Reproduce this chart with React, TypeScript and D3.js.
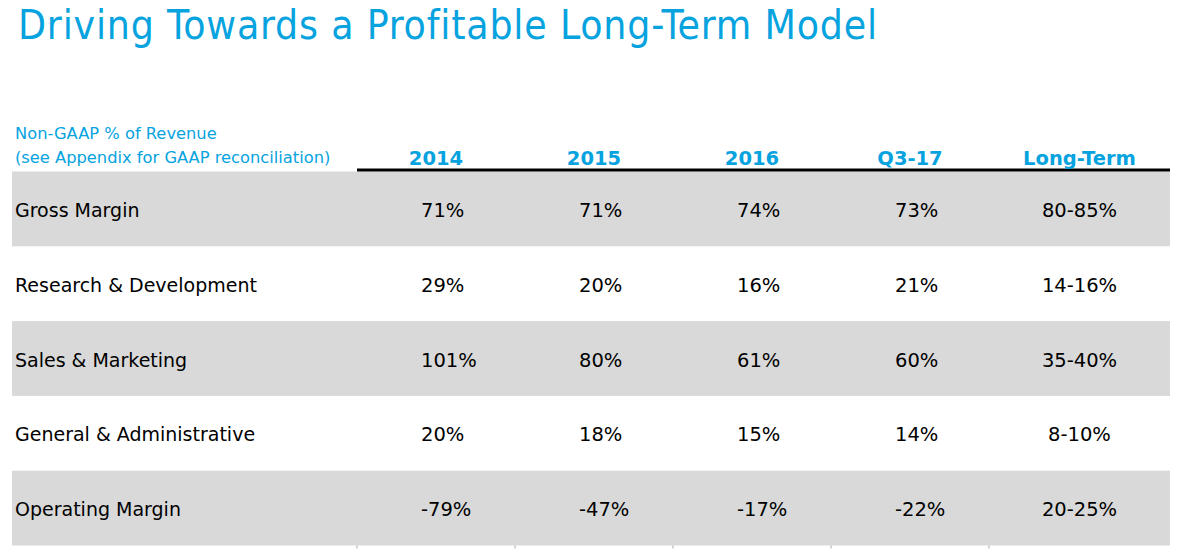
import React from "react";
import * as d3 from "d3";

const title = "Driving Towards a Profitable Long-Term Model";
const subtitleLines = ["Non-GAAP % of Revenue", "(see Appendix for GAAP reconciliation)"];
const columns = ["2014", "2015", "2016", "Q3-17", "Long-Term"];
const rowLabels = [
  "Gross Margin",
  "Research & Development",
  "Sales & Marketing",
  "General & Administrative",
  "Operating Margin",
];
const v2014 = ["71%", "29%", "101%", "20%", "-79%"];
const v2015 = ["71%", "20%", "80%", "18%", "-47%"];
const v2016 = ["74%", "16%", "61%", "15%", "-17%"];
const vQ317 = ["73%", "21%", "60%", "14%", "-22%"];
const vLongTerm = ["80-85%", "14-16%", "35-40%", "8-10%", "20-25%"];

const seriesByColumn = [v2014, v2015, v2016, vQ317, vLongTerm];

const W = 1179;
const H = 551;
const BLUE = "#06a3df";
const GRAY = "#d9d9d9";
const FONT = "'DejaVu Sans', Verdana, sans-serif";
const FONT_COND = "'DejaVu Sans Condensed', 'DejaVu Sans', sans-serif";

export default function App() {
  const tableLeft = 12;
  const tableRight = 1170;
  const colStart = 357;
  const colWidth = 158;

  const x = d3
    .scaleBand<string>()
    .domain(columns)
    .range([colStart, colStart + colWidth * columns.length])
    .paddingInner(0)
    .paddingOuter(0);

  const y = d3
    .scaleBand<string>()
    .domain(rowLabels)
    .range([171.5, 171.5 + 74.8 * rowLabels.length])
    .paddingInner(0);

  const last = columns[columns.length - 1];
  const colCenter = (c: string) =>
    c === last ? ((x(c) as number) + tableRight) / 2 : (x(c) as number) + x.bandwidth() / 2;
  const valueX = (c: string) => (c === last ? colCenter(c) : (x(c) as number) + 64);
  const valueAnchor = (c: string) => (c === last ? "middle" : "start");

  const tickPositions = columns.map((c) => x(c) as number);
  const textY = (r: string) => (y(r) as number) + y.bandwidth() / 2 + 8;

  return (
    <svg
      width={W}
      height={H}
      style={{ position: "absolute", left: 0, top: 0, background: "#fff" }}
      fontFamily={FONT}
    >
      <rect x={0} y={0} width={W} height={H} fill="#fff" />
      <text
        x={18}
        y={38.5}
        fill={BLUE}
        fontSize={40.5}
        fontFamily={FONT_COND}
        letterSpacing={0.8}
      >
        {title}
      </text>

      {subtitleLines.map((s, i) => (
        <text key={s} x={15} y={139 + i * 23.5} fill={BLUE} fontSize={16.3}>
          {s}
        </text>
      ))}

      {rowLabels.map((r, i) =>
        i % 2 === 0 ? (
          <rect
            key={"bg" + r}
            x={tableLeft}
            y={y(r) as number}
            width={tableRight - tableLeft}
            height={y.bandwidth()}
            fill={GRAY}
          />
        ) : null
      )}

      {tickPositions.map((tx, i) => (
        <line
          key={"tick" + i}
          x1={tx}
          x2={tx}
          y1={(y(rowLabels[rowLabels.length - 1]) as number) + y.bandwidth()}
          y2={(y(rowLabels[rowLabels.length - 1]) as number) + y.bandwidth() + 3}
          stroke="#aaa"
          strokeWidth={1}
        />
      ))}

      <line x1={colStart} x2={tableRight} y1={170} y2={170} stroke="#000" strokeWidth={3} />

      {columns.map((c) => (
        <text
          key={"h" + c}
          x={colCenter(c)}
          y={164.5}
          textAnchor="middle"
          fill={BLUE}
          fontSize={19.5}
          fontWeight="bold"
        >
          {c}
        </text>
      ))}

      {rowLabels.map((r) => (
        <text key={"l" + r} x={15} y={textY(r)} fill="#000" fontSize={19}>
          {r}
        </text>
      ))}

      {columns.map((c, ci) =>
        seriesByColumn[ci].map((v, ri) => (
          <text
            key={"v" + c + ri}
            x={valueX(c)}
            y={textY(rowLabels[ri])}
            textAnchor={valueAnchor(c)}
            fill="#000"
            fontSize={19.5}
          >
            {v}
          </text>
        ))
      )}
    </svg>
  );
}
